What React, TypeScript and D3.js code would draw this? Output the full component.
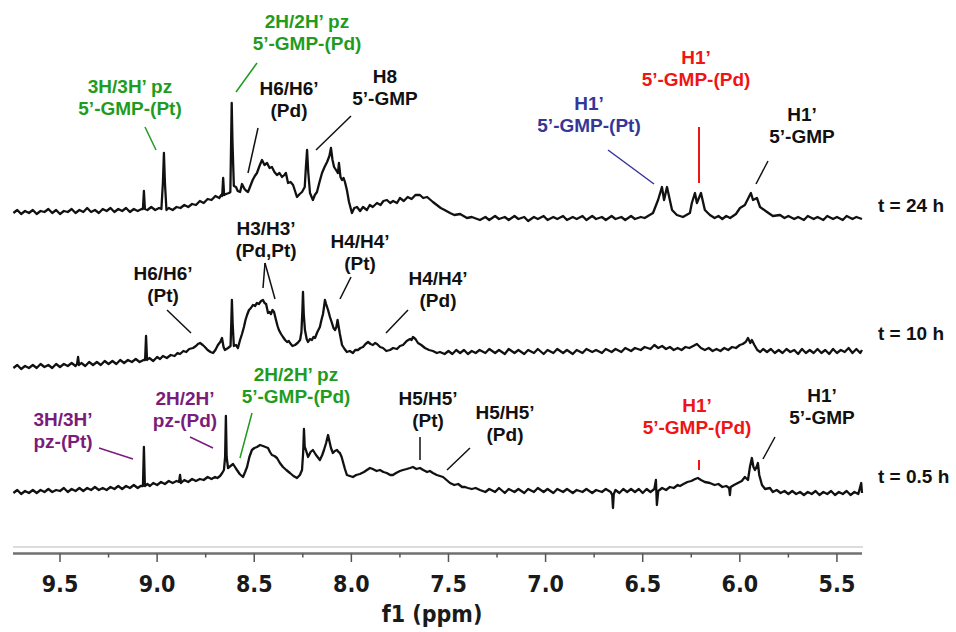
import React from "react";
import * as d3 from "d3";

// ---------- DATA ----------
const ppmDomain: [number, number] = [9.742, 5.371];
const majorTicks = [9.5, 9.0, 8.5, 8.0, 7.5, 7.0, 6.5, 6.0, 5.5];
const minorTicks = [9.25, 8.75, 8.25, 7.75, 7.25, 6.75, 6.25, 5.75];
const axisTitle = "f1 (ppm)";
const spectrumNames = ["t = 24 h", "t = 10 h", "t = 0.5 h"];

// [ppm, intensity (a.u.)]
const spec24h: [number, number][] = [
  [9.74, 9], [9.72, 12], [9.7, 8], [9.68, 11], [9.66, 9], [9.64, 12], [9.62, 8], [9.6, 11], [9.58, 10], [9.56, 13],
  [9.54, 9], [9.52, 12], [9.5, 8], [9.48, 11], [9.46, 10], [9.44, 13], [9.42, 9], [9.4, 12], [9.38, 10], [9.36, 14],
  [9.34, 10], [9.32, 12], [9.3, 9], [9.28, 13], [9.26, 11], [9.24, 14], [9.22, 10], [9.2, 13], [9.18, 11], [9.16, 14],
  [9.14, 10], [9.12, 13], [9.1, 11], [9.08, 13], [9.073, 13], [9.068, 31], [9.063, 13], [9.05, 12], [9.03, 15], [9.01, 12],
  [8.99, 14], [8.978, 13], [8.97, 40], [8.965, 69], [8.96, 40], [8.952, 12], [8.94, 14], [8.92, 12], [8.9, 15], [8.88, 14],
  [8.86, 17], [8.84, 15], [8.82, 18], [8.8, 17], [8.78, 21], [8.76, 19], [8.74, 23], [8.72, 22], [8.7, 26], [8.68, 24],
  [8.67, 27], [8.665, 26], [8.66, 44], [8.655, 27], [8.645, 28], [8.63, 29], [8.623, 30], [8.619, 80], [8.616, 119], [8.612, 80],
  [8.605, 36], [8.594, 35], [8.585, 31], [8.573, 30], [8.563, 38], [8.55, 33], [8.54, 31], [8.532, 30], [8.52, 36], [8.508, 42],
  [8.497, 46], [8.486, 49], [8.473, 56], [8.46, 62], [8.447, 57], [8.434, 59], [8.421, 54], [8.409, 55], [8.396, 50], [8.383, 47],
  [8.37, 49], [8.357, 45], [8.345, 47], [8.337, 49], [8.326, 39], [8.313, 40], [8.3, 37], [8.29, 31], [8.28, 25], [8.266, 28],
  [8.254, 30], [8.24, 35], [8.234, 55], [8.228, 72], [8.222, 50], [8.213, 29], [8.198, 22], [8.188, 27], [8.177, 30], [8.164, 40],
  [8.151, 49], [8.138, 55], [8.125, 60], [8.113, 66], [8.105, 74], [8.097, 62], [8.089, 55], [8.079, 52], [8.069, 49], [8.064, 59],
  [8.056, 45], [8.048, 42], [8.04, 44], [8.033, 40], [8.023, 32], [8.012, 20], [7.997, 9], [7.985, 14], [7.971, 15], [7.955, 11],
  [7.94, 15], [7.92, 12], [7.905, 17], [7.89, 15], [7.868, 19], [7.85, 17], [7.835, 21], [7.817, 22], [7.8, 19], [7.785, 21],
  [7.765, 19], [7.75, 24], [7.73, 21], [7.71, 25], [7.69, 23], [7.67, 27], [7.647, 27], [7.63, 24], [7.61, 25], [7.58, 20],
  [7.56, 17], [7.54, 14], [7.52, 12], [7.492, 9], [7.47, 7], [7.44, 8], [7.405, 4], [7.38, 5], [7.338, 2], [7.31, 5],
  [7.29, 2], [7.26, 6], [7.24, 3], [7.21, 5], [7.19, 2], [7.16, 6], [7.14, 3], [7.11, 5], [7.09, 1], [7.06, 5],
  [7.04, 3], [7.01, 6], [6.99, 2], [6.96, 5], [6.94, 3], [6.91, 6], [6.89, 2], [6.86, 5], [6.84, 3], [6.81, 6],
  [6.79, 2], [6.76, 6], [6.74, 3], [6.71, 5], [6.69, 2], [6.66, 6], [6.64, 3], [6.61, 5], [6.59, 2], [6.56, 6],
  [6.54, 3], [6.51, 5], [6.49, 4], [6.447, 9], [6.421, 22], [6.401, 35], [6.39, 22], [6.375, 35], [6.349, 12], [6.324, 7],
  [6.293, 5], [6.257, 9], [6.247, 19], [6.231, 29], [6.221, 19], [6.2, 29], [6.18, 12], [6.154, 7], [6.13, 4], [6.11, 6],
  [6.09, 3], [6.07, 6], [6.05, 4], [6.02, 8], [5.999, 14], [5.974, 17], [5.943, 29], [5.932, 22], [5.912, 24], [5.896, 15],
  [5.86, 10], [5.83, 6], [5.793, 7], [5.77, 4], [5.75, 6], [5.72, 3], [5.7, 5], [5.67, 2], [5.65, 6], [5.62, 3],
  [5.6, 5], [5.57, 2], [5.55, 6], [5.52, 3], [5.5, 5], [5.47, 2], [5.45, 6], [5.42, 3], [5.4, 5], [5.371, 3],
];

const spec10h: [number, number][] = [
  [9.74, 4], [9.72, 7], [9.7, 3], [9.68, 6], [9.66, 4], [9.64, 7], [9.62, 4], [9.6, 8], [9.58, 5], [9.56, 7],
  [9.54, 4], [9.52, 8], [9.5, 5], [9.48, 8], [9.46, 6], [9.44, 9], [9.42, 6], [9.412, 8], [9.407, 15], [9.402, 7],
  [9.39, 9], [9.37, 6], [9.35, 10], [9.33, 7], [9.31, 10], [9.29, 7], [9.27, 11], [9.25, 8], [9.23, 11], [9.21, 8],
  [9.19, 12], [9.17, 9], [9.15, 12], [9.13, 10], [9.11, 13], [9.09, 10], [9.07, 12], [9.062, 12], [9.057, 36], [9.052, 12],
  [9.04, 14], [9.02, 11], [9.0, 15], [8.985, 13], [8.97, 16], [8.95, 14], [8.93, 17], [8.91, 16], [8.895, 19], [8.882, 18],
  [8.865, 21], [8.85, 20], [8.835, 23], [8.815, 24], [8.8, 26], [8.79, 28], [8.779, 29], [8.765, 27], [8.754, 25], [8.74, 22],
  [8.725, 20], [8.712, 19], [8.7, 22], [8.687, 27], [8.675, 30], [8.666, 34], [8.658, 25], [8.651, 22], [8.635, 24], [8.622, 26],
  [8.618, 50], [8.615, 72], [8.611, 48], [8.605, 26], [8.594, 27], [8.584, 24], [8.573, 32], [8.563, 38], [8.553, 45], [8.545, 52],
  [8.537, 57], [8.527, 62], [8.517, 64], [8.507, 67], [8.496, 66], [8.486, 69], [8.476, 68], [8.465, 71], [8.455, 72], [8.447, 69],
  [8.439, 68], [8.429, 59], [8.421, 60], [8.414, 58], [8.406, 62], [8.398, 60], [8.388, 52], [8.38, 46], [8.373, 42], [8.362, 38],
  [8.352, 35], [8.341, 32], [8.331, 30], [8.322, 31], [8.316, 29], [8.303, 26], [8.29, 27], [8.277, 29], [8.264, 32], [8.257, 40],
  [8.252, 62], [8.249, 80], [8.245, 58], [8.239, 42], [8.23, 33], [8.223, 30], [8.213, 33], [8.203, 32], [8.195, 35], [8.187, 34],
  [8.175, 40], [8.162, 45], [8.154, 52], [8.146, 58], [8.14, 66], [8.136, 72], [8.13, 68], [8.12, 62], [8.11, 55], [8.1, 49],
  [8.092, 44], [8.084, 42], [8.077, 45], [8.071, 52], [8.066, 46], [8.059, 38], [8.048, 27], [8.035, 23], [8.023, 20], [8.008, 21],
  [7.992, 19], [7.98, 22], [7.966, 22], [7.953, 24], [7.94, 25], [7.927, 28], [7.914, 30], [7.901, 28], [7.889, 27], [7.878, 29],
  [7.868, 28], [7.852, 25], [7.837, 24], [7.82, 21], [7.801, 22], [7.785, 24], [7.765, 23], [7.75, 26], [7.734, 27], [7.715, 31],
  [7.698, 33], [7.69, 32], [7.683, 35], [7.67, 33], [7.657, 29], [7.64, 27], [7.621, 24], [7.6, 22], [7.58, 21], [7.56, 19],
  [7.544, 20], [7.52, 18], [7.5, 21], [7.48, 18], [7.46, 22], [7.44, 19], [7.42, 22], [7.4, 18], [7.38, 21], [7.36, 19],
  [7.34, 22], [7.31, 19], [7.29, 23], [7.26, 19], [7.24, 22], [7.21, 18], [7.19, 23], [7.16, 19], [7.14, 22], [7.11, 18],
  [7.09, 22], [7.06, 19], [7.04, 23], [7.01, 18], [6.99, 22], [6.96, 19], [6.94, 23], [6.91, 19], [6.89, 22], [6.86, 18],
  [6.84, 22], [6.81, 19], [6.79, 23], [6.76, 20], [6.74, 22], [6.71, 19], [6.69, 23], [6.66, 20], [6.64, 23], [6.61, 20],
  [6.59, 24], [6.56, 21], [6.54, 24], [6.51, 22], [6.49, 25], [6.46, 23], [6.44, 27], [6.42, 24], [6.4, 26], [6.38, 23],
  [6.36, 25], [6.34, 22], [6.32, 24], [6.3, 22], [6.28, 25], [6.26, 24], [6.24, 26], [6.221, 28], [6.2, 24], [6.18, 22],
  [6.16, 24], [6.14, 21], [6.12, 23], [6.1, 21], [6.08, 24], [6.06, 22], [6.04, 25], [6.02, 24], [6.0, 27], [5.985, 28],
  [5.97, 30], [5.958, 34], [5.946, 29], [5.938, 32], [5.925, 27], [5.91, 22], [5.895, 20], [5.88, 23], [5.86, 20], [5.84, 23],
  [5.82, 19], [5.8, 22], [5.78, 19], [5.76, 23], [5.74, 20], [5.72, 22], [5.7, 18], [5.68, 23], [5.66, 19], [5.64, 22],
  [5.62, 19], [5.6, 23], [5.58, 19], [5.56, 22], [5.54, 18], [5.52, 23], [5.5, 19], [5.48, 22], [5.46, 20], [5.44, 24],
  [5.42, 19], [5.4, 23], [5.38, 19], [5.371, 22],
];

const spec05h: [number, number][] = [
  [9.74, 4], [9.72, 7], [9.7, 3], [9.68, 6], [9.66, 4], [9.64, 7], [9.62, 4], [9.6, 7], [9.58, 5], [9.56, 8],
  [9.54, 5], [9.52, 7], [9.5, 6], [9.48, 9], [9.46, 5], [9.44, 8], [9.42, 6], [9.4, 9], [9.38, 6], [9.36, 9],
  [9.34, 7], [9.32, 10], [9.3, 7], [9.28, 9], [9.26, 7], [9.24, 10], [9.22, 8], [9.2, 11], [9.18, 8], [9.16, 11],
  [9.14, 9], [9.12, 12], [9.1, 9], [9.085, 11], [9.073, 11], [9.068, 50], [9.063, 11], [9.05, 13], [9.037, 11], [9.02, 14],
  [9.0, 12], [8.98, 15], [8.96, 13], [8.94, 16], [8.92, 14], [8.9, 16], [8.887, 15], [8.882, 22], [8.877, 14], [8.86, 17],
  [8.84, 15], [8.82, 18], [8.8, 16], [8.78, 18], [8.76, 17], [8.74, 20], [8.72, 18], [8.702, 20], [8.69, 19], [8.676, 21],
  [8.665, 24], [8.656, 27], [8.65, 40], [8.646, 81], [8.642, 40], [8.635, 29], [8.622, 31], [8.609, 33], [8.599, 30], [8.589, 27],
  [8.575, 23], [8.558, 20], [8.547, 25], [8.537, 30], [8.525, 40], [8.512, 47], [8.499, 49], [8.486, 50], [8.47, 52], [8.455, 51],
  [8.442, 50], [8.429, 49], [8.419, 45], [8.409, 42], [8.396, 41], [8.383, 39], [8.368, 34], [8.352, 30], [8.335, 27], [8.316, 24],
  [8.298, 21], [8.28, 19], [8.265, 22], [8.254, 27], [8.248, 45], [8.244, 68], [8.24, 50], [8.234, 47], [8.223, 40], [8.21, 45],
  [8.198, 47], [8.182, 42], [8.162, 37], [8.15, 42], [8.141, 47], [8.13, 54], [8.12, 62], [8.112, 55], [8.105, 49], [8.095, 44],
  [8.085, 46], [8.074, 47], [8.066, 45], [8.059, 44], [8.05, 40], [8.043, 35], [8.033, 28], [8.023, 22], [8.008, 21], [7.992, 20],
  [7.975, 22], [7.956, 23], [7.935, 25], [7.92, 27], [7.904, 29], [7.89, 28], [7.87, 26], [7.853, 27], [7.835, 25], [7.818, 24],
  [7.8, 22], [7.786, 22], [7.77, 24], [7.75, 26], [7.734, 27], [7.715, 28], [7.698, 29], [7.683, 30], [7.665, 28], [7.647, 29],
  [7.63, 27], [7.61, 25], [7.596, 26], [7.58, 24], [7.56, 22], [7.544, 21], [7.528, 20], [7.51, 17], [7.492, 14], [7.47, 12],
  [7.45, 13], [7.43, 10], [7.415, 10], [7.4, 9], [7.38, 8], [7.36, 9], [7.338, 7], [7.31, 5], [7.29, 8], [7.26, 5],
  [7.24, 9], [7.21, 4], [7.19, 8], [7.16, 5], [7.14, 8], [7.11, 4], [7.09, 8], [7.06, 5], [7.04, 9], [7.01, 5],
  [6.99, 8], [6.96, 4], [6.94, 8], [6.91, 5], [6.89, 8], [6.86, 4], [6.84, 7], [6.81, 5], [6.79, 8], [6.76, 4],
  [6.74, 7], [6.71, 5], [6.69, 8], [6.665, 5], [6.657, 2], [6.653, -11], [6.649, 3], [6.64, 7], [6.62, 4], [6.6, 8],
  [6.58, 5], [6.56, 8], [6.54, 5], [6.52, 8], [6.5, 4], [6.48, 8], [6.46, 5], [6.44, 8], [6.432, 17], [6.427, -8],
  [6.42, 6], [6.4, 9], [6.38, 7], [6.36, 10], [6.34, 9], [6.32, 12], [6.308, 11], [6.29, 13], [6.27, 15], [6.25, 16],
  [6.23, 18], [6.216, 19], [6.2, 17], [6.18, 15], [6.154, 14], [6.13, 12], [6.11, 13], [6.09, 10], [6.07, 11], [6.055, 9],
  [6.051, 2], [6.047, 10], [6.03, 12], [6.01, 14], [5.99, 16], [5.974, 20], [5.958, 17], [5.948, 30], [5.938, 39], [5.93, 30],
  [5.922, 27], [5.914, 30], [5.907, 34], [5.9, 22], [5.886, 12], [5.87, 8], [5.845, 9], [5.83, 5], [5.81, 7], [5.79, 4],
  [5.77, 6], [5.75, 3], [5.73, 6], [5.71, 3], [5.69, 5], [5.67, 2], [5.65, 5], [5.63, 3], [5.61, 6], [5.59, 2],
  [5.57, 5], [5.55, 3], [5.53, 6], [5.51, 2], [5.49, 5], [5.47, 3], [5.45, 6], [5.43, 2], [5.41, 5], [5.39, 3],
  [5.375, 14], [5.371, 4],
];

const spectra = [spec24h, spec10h, spec05h];

// ---------- LAYOUT ----------
const W = 956;
const H = 632;
const traceBaseY = [222, 372, 497];
const GREEN = "#1f9c1f";
const RED = "#f01414";
const BLUE = "#363698";
const PURPLE = "#7a1c7a";
const BLACK = "#111";

type Ann = { lines: string[]; color: string; x: number; y: number; leaders: number[][]; lw?: number };
const annotations: Ann[] = [
  { lines: ["2H/2H\u2019 pz", "5\u2019-GMP-(Pd)"], color: GREEN, x: 307, y: 28, leaders: [[257, 63, 236, 92]] },
  { lines: ["3H/3H\u2019 pz", "5\u2019-GMP-(Pt)"], color: GREEN, x: 130, y: 93, leaders: [[145, 127, 156, 150]] },
  { lines: ["H6/H6\u2019", "(Pd)"], color: BLACK, x: 289, y: 95, leaders: [[258, 128, 248, 173]] },
  { lines: ["H8", "5\u2019-GMP"], color: BLACK, x: 385, y: 83, leaders: [[351, 116, 316, 150]] },
  { lines: ["H1\u2019", "5\u2019-GMP-(Pd)"], color: RED, x: 696, y: 64, leaders: [[699, 127, 699, 183]], lw: 2 },
  { lines: ["H1\u2019", "5\u2019-GMP-(Pt)"], color: BLUE, x: 589, y: 110, leaders: [[608, 150, 654, 184]] },
  { lines: ["H1\u2019", "5\u2019-GMP"], color: BLACK, x: 802, y: 121, leaders: [[768, 161, 756, 184]] },
  { lines: ["H6/H6\u2019", "(Pt)"], color: BLACK, x: 163, y: 280, leaders: [[167, 310, 191, 333]] },
  { lines: ["H3/H3\u2019", "(Pd,Pt)"], color: BLACK, x: 266, y: 235, leaders: [[265, 263, 263, 288], [265, 263, 275, 299]] },
  { lines: ["H4/H4\u2019", "(Pt)"], color: BLACK, x: 360, y: 248, leaders: [[351, 277, 340, 299]] },
  { lines: ["H4/H4\u2019", "(Pd)"], color: BLACK, x: 438, y: 285, leaders: [[408, 310, 386, 333]] },
  { lines: ["3H/3H\u2019", "pz-(Pt)"], color: PURPLE, x: 63, y: 426, leaders: [[99, 448, 133, 459]] },
  { lines: ["2H/2H\u2019", "pz-(Pd)"], color: PURPLE, x: 185, y: 405, leaders: [[190, 437, 213, 448]] },
  { lines: ["2H/2H\u2019 pz", "5\u2019-GMP-(Pd)"], color: GREEN, x: 296, y: 381, leaders: [[252, 413, 240, 458]] },
  { lines: ["H5/H5\u2019", "(Pt)"], color: BLACK, x: 428, y: 405, leaders: [[420, 437, 420, 460]] },
  { lines: ["H5/H5\u2019", "(Pd)"], color: BLACK, x: 505, y: 419, leaders: [[470, 448, 447, 470]] },
  { lines: ["H1\u2019", "5\u2019-GMP-(Pd)"], color: RED, x: 697, y: 412, leaders: [[699, 460, 699, 470]], lw: 2 },
  { lines: ["H1\u2019", "5\u2019-GMP"], color: BLACK, x: 822, y: 402, leaders: [[775, 437, 763, 459]] },
];
const nameX = 878;
const nameY = [212, 340, 483];

const labelFont = "'Liberation Sans', Arial, Helvetica, sans-serif";
const axisFont = "'DejaVu Sans', Verdana, sans-serif";

export default function App() {
  const x = d3.scaleLinear().domain(ppmDomain).range([13, 862]);
  const y = d3.scaleLinear().domain([0, 100]).range([0, 100]);

  const lines = spectra.map((data, i) =>
    d3
      .line<[number, number]>()
      .x((d) => x(d[0]))
      .y((d) => traceBaseY[i] - y(d[1]))(data) || ""
  );

  const axisY = 553.5;

  return (
    <div style={{ position: "absolute", left: 0, top: 0, width: W, height: H, background: "#fff" }}>
      <svg width={W} height={H} viewBox={`0 0 ${W} ${H}`} style={{ display: "block" }}>
        <rect width={W} height={H} fill="#ffffff" />
        {lines.map((p, i) => (
          <path key={i} d={p} fill="none" stroke="#111" strokeWidth={2.3} strokeLinejoin="round" />
        ))}

        {annotations.map((a, i) => (
          <g key={i}>
            {a.leaders.map((l, j) => (
              <line key={j} x1={l[0]} y1={l[1]} x2={l[2]} y2={l[3]} stroke={a.color} strokeWidth={a.lw ?? 1.5} />
            ))}
            <text
              x={a.x}
              y={a.y}
              fill={a.color}
              fontFamily={labelFont}
              fontWeight="bold"
              fontSize={19}
              textAnchor="middle"
            >
              {a.lines.map((t, k) => (
                <tspan key={k} x={a.x} dy={k === 0 ? 0 : 22}>
                  {t}
                </tspan>
              ))}
            </text>
          </g>
        ))}

        {spectrumNames.map((n, i) => (
          <text key={n} x={nameX} y={nameY[i]} fill="#111" fontFamily={labelFont} fontWeight="bold" fontSize={19}>
            {n}
          </text>
        ))}

        {/* axis */}
        <line x1={13} x2={863} y1={547} y2={547} stroke="#dcdcdc" strokeWidth={1.8} />
        <line x1={13} x2={862} y1={axisY} y2={axisY} stroke="#707070" strokeWidth={2.4} />
        {majorTicks.map((t) => (
          <line key={"M" + t} x1={x(t)} x2={x(t)} y1={axisY} y2={562} stroke="#555" strokeWidth={1.5} />
        ))}
        {minorTicks.map((t) => (
          <line key={"m" + t} x1={x(t)} x2={x(t)} y1={axisY} y2={557.5} stroke="#555" strokeWidth={1.5} />
        ))}
        {majorTicks.map((t) => (
          <text
            key={"L" + t}
            transform={`translate(${x(t)},592) scale(0.9,1)`}
            textAnchor="middle"
            fontFamily={axisFont}
            fontWeight="bold"
            fontSize={23}
            fill="#1a1a1a"
          >
            {t.toFixed(1)}
          </text>
        ))}
        <text
          transform={`translate(432,622) scale(0.9,1)`}
          textAnchor="middle"
          fontFamily={axisFont}
          fontWeight="bold"
          fontSize={23}
          fill="#1a1a1a"
        >
          {axisTitle}
        </text>
      </svg>
    </div>
  );
}
